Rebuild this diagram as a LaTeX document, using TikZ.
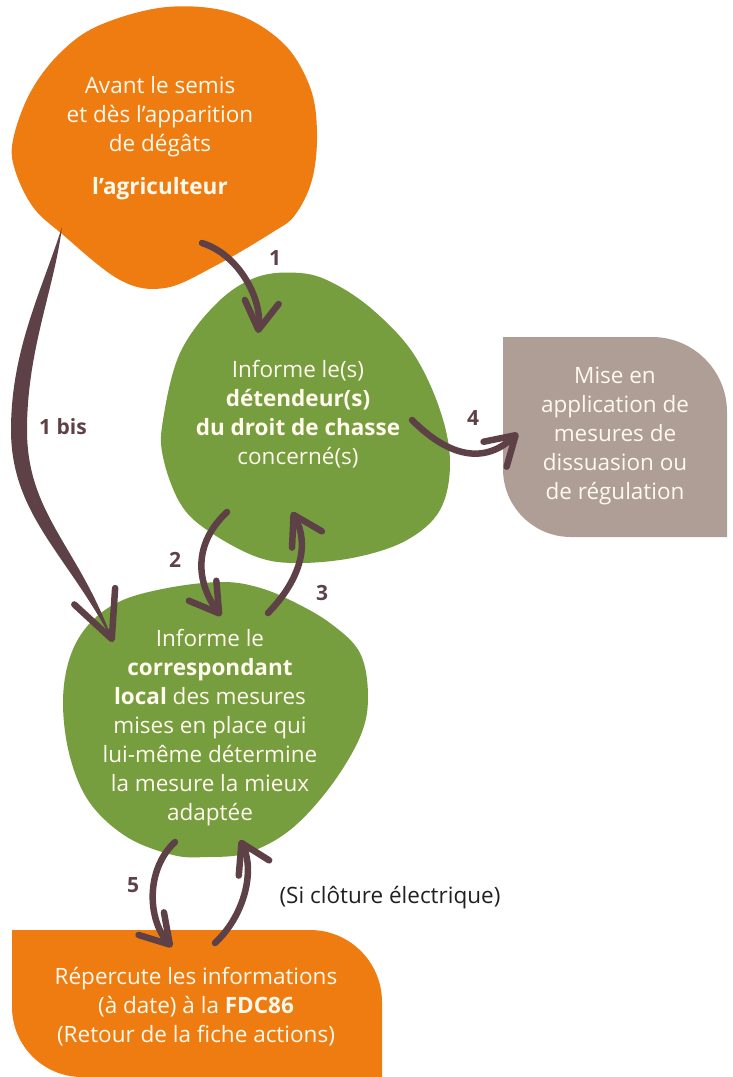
\documentclass[tikz,border=0pt]{standalone}
\usepackage{fontspec}
\setmainfont{Open Sans}
\usetikzlibrary{arrows.meta}
\definecolor{orangec}{HTML}{EF7C10}
\definecolor{greenc}{HTML}{769D3E}
\definecolor{greyc}{HTML}{AF9E96}
\definecolor{arrowc}{HTML}{5E4147}
\definecolor{textc}{HTML}{FFF9EE}
\definecolor{darkc}{HTML}{231F20}
\begin{document}
\begin{tikzpicture}[x=1pt,y=-1pt,
  wt/.style={text=textc, font=\fontsize{22.5}{29}\selectfont, align=center, inner sep=0pt},
  lab/.style={text=arrowc, font=\fontsize{21}{25}\selectfont\bfseries, inner sep=0pt},
  arr/.style={draw=arrowc, line width=6.5pt, line cap=round,
    -{Straight Barb[round, length=28pt, width=34pt]}},
  bigtip/.style={draw=arrowc, line width=6.5pt, line cap=round,
    -{Straight Barb[round, length=46pt, width=44pt]}}]
\useasboundingbox (0,0) rectangle (732,1077);

% orange blob (agriculteur)
\fill[orangec] plot[smooth cycle, tension=0.6] coordinates {
  (167,7) (233,13) (283,43) (310,87) (317,133) (312,180) (295,215) (273,232)
  (215,266) (165,288) (120,280) (62,234) (33,207) (15,170) (13,140) (30,93)
  (60,53) (100,25)};
% green blob 1
\fill[greenc] plot[smooth cycle, tension=0.6] coordinates {
  (300,273) (333,283) (373,310) (413,353) (440,410) (450,463) (440,510)
  (407,540) (357,557) (300,563) (257,557) (207,530) (180,503) (163,457)
  (163,420) (180,353) (217,303) (257,277)};
% green blob 2
\fill[greenc] plot[smooth cycle, tension=0.6] coordinates {
  (223,582) (257,587) (290,600) (330,623) (360,653) (368,697) (360,737)
  (330,787) (290,830) (247,853) (207,857) (173,855) (127,837) (90,803)
  (70,757) (63,703) (70,657) (90,623) (123,600) (173,587)};
% grey box
\fill[greyc] (503,337) -- (652,337) .. controls (693.4,337) and (727,370.6) .. (727,412)
  -- (727,537) -- (571,537) .. controls (533.4,537) and (503,506.6) .. (503,469) -- cycle;
% bottom orange box
\fill[orangec] (12,930) -- (310,930) .. controls (349.8,930) and (382,962.2) .. (382,1002)
  -- (382,1077) -- (82,1077) .. controls (43.3,1077) and (12,1045.7) .. (12,1007) -- cycle;

% texts
\node[wt] (agri) at (160,138) {Avant le semis\\et dès l’apparition\\de dégâts\\[14pt]\textbf{l’agriculteur}};
\node[wt] (det) at (298,414) {Informe le(s)\\\textbf{détendeur(s)}\\\textbf{du droit de chasse}\\concerné(s)};
\node[wt] (mise) at (615,436) {Mise en\\application de\\mesures de\\dissuasion ou\\de régulation};
\node[wt] (corr) at (210,728) {Informe le\\\textbf{correspondant}\\\textbf{local} des mesures\\mises en place qui\\lui-même détermine\\la mesure la mieux\\adaptée};
\node[wt] (fdc) at (196,1007) {Répercute les informations\\(à date) à la \textbf{FDC86}\\(Retour de la fiche actions)};
\node[text=darkc, font=\fontsize{22.5}{25}\selectfont, inner sep=0pt] (clot) at (390,898) {(Si clôture électrique)};

% labels
\node[lab] (l1) at (275,258) {1};
\node[lab] (l1b) at (63,427) {1 bis};
\node[lab] (l2) at (175,560) {2};
\node[lab] (l3) at (322,593) {3};
\node[lab] (l4) at (473,418) {4};
\node[lab] (l5) at (133,885) {5};

% arrow end points
\coordinate (a1s) at (202,243); \coordinate (a1e) at (258,333);
\coordinate (a4s) at (412,420); \coordinate (a4e) at (518,433);
\coordinate (a2s) at (227,512); \coordinate (a2e) at (221,616);
\coordinate (a3s) at (268,613); \coordinate (a3e) at (292,512);
\coordinate (a5s) at (175,842); \coordinate (a5e) at (172,947);
\coordinate (a6s) at (215,943); \coordinate (a6e) at (240,840);
\coordinate (bs) at (62,227); \coordinate (be) at (113,642);
\coordinate (bpre) at (109,632);

% arrows
\draw[arr] (a1s) .. controls (240,255) and (262,300) .. (a1e);
\draw[arr] (a4s) .. controls (440,448) and (478,470) .. (a4e);
\draw[arr] (a2s) .. controls (192,545) and (197,583) .. (a2e);
\draw[arr] (a3s) .. controls (300,580) and (310,545) .. (a3e);
\draw[arr] (a5s) .. controls (145,870) and (148,920) .. (a5e);
\draw[arr] (a6s) .. controls (245,915) and (255,870) .. (a6e);
% 1 bis tapered arrow
\fill[arrowc] (bs) .. controls (42,290) and (11,350) .. (11,430)
  .. controls (11,515) and (68,555) .. (be)
  .. controls (80,548) and (27,515) .. (27,430)
  .. controls (27,350) and (54,290) .. (bs) -- cycle;
\draw[bigtip] (bpre) -- (be);
\end{tikzpicture}
\end{document}
